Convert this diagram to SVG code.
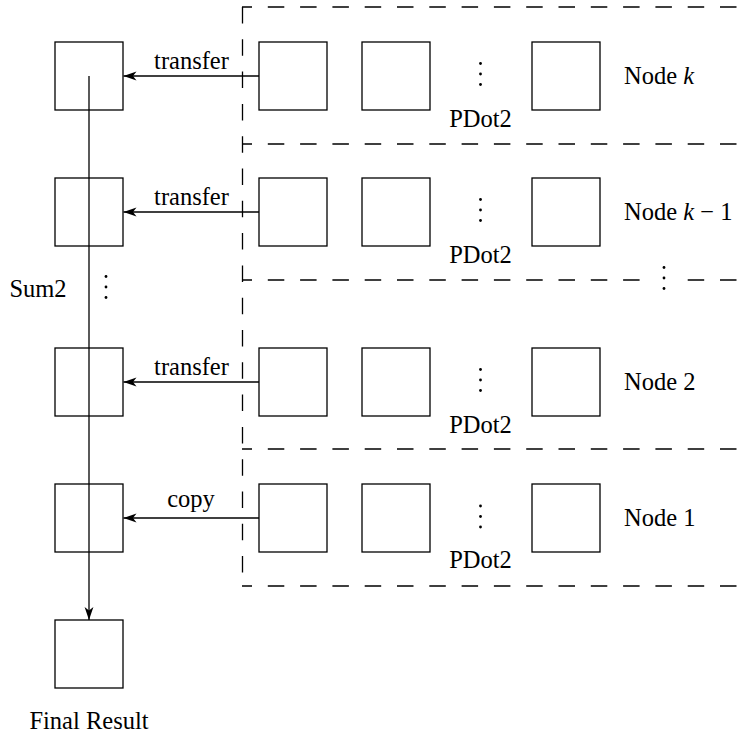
<svg xmlns="http://www.w3.org/2000/svg" width="738" height="734" viewBox="0 0 738 734">
<style>
  .box { fill: none; stroke: #000; stroke-width: 1.3; }
  .ln { fill: none; stroke: #000; stroke-width: 1.3; }
  .dash { fill: none; stroke: #000; stroke-width: 1.3; stroke-dasharray: 16.5 15.8; }
  .t { font-family: 'Liberation Serif', serif; font-size: 24.5px; fill: #000; }
  .m { text-anchor: middle; }
  .dot { fill: #000; }
</style>
<defs>
  <marker id="ah" viewBox="0 0 14 10" refX="13" refY="5" markerWidth="14" markerHeight="10" markerUnits="userSpaceOnUse" orient="auto">
    <path d="M13,5 L0,0.6 L3.5,5 L0,9.4 Z" fill="#000"/>
  </marker>
  <g id="vdots">
    <circle cx="0" cy="-10.5" r="1.4" class="dot"/>
    <circle cx="0" cy="0" r="1.4" class="dot"/>
    <circle cx="0" cy="10.5" r="1.4" class="dot"/>
  </g>
</defs>

<!-- dashed node regions -->
<g id="regions">
  <line class="dash" x1="242.5" y1="7" x2="242.5" y2="586"/>
  <line class="dash" x1="242" y1="7" x2="738" y2="7" stroke-dashoffset="6.5"/>
  <line class="dash" x1="242" y1="144" x2="738" y2="144" stroke-dashoffset="6.5"/>
  <line class="dash" x1="242" y1="280" x2="738" y2="280" stroke-dashoffset="6.5"/>
  <line class="dash" x1="242" y1="449" x2="738" y2="449" stroke-dashoffset="6.5"/>
  <line class="dash" x1="242" y1="586" x2="738" y2="586" stroke-dashoffset="6.5"/>
  <rect x="652" y="270" width="24" height="20" fill="#fff"/>
  <use href="#vdots" x="664" y="278"/>
</g>

<!-- connectors -->
<g id="connectors">
  <line class="ln" x1="89" y1="76" x2="89" y2="620" marker-end="url(#ah)"/>
  <line class="ln" x1="259" y1="76" x2="123.5" y2="76" marker-end="url(#ah)"/>
  <line class="ln" x1="259" y1="212" x2="123.5" y2="212" marker-end="url(#ah)"/>
  <line class="ln" x1="259" y1="382" x2="123.5" y2="382" marker-end="url(#ah)"/>
  <line class="ln" x1="259" y1="518" x2="123.5" y2="518" marker-end="url(#ah)"/>
  <text class="t m" x="191.5" y="69">transfer</text>
  <text class="t m" x="191.5" y="205">transfer</text>
  <text class="t m" x="191.5" y="375">transfer</text>
  <text class="t m" x="191" y="507">copy</text>
</g>

<!-- Sum2 column -->
<g id="sum2-1"><rect class="box" x="55" y="42" width="68" height="68"/></g>
<g id="sum2-2"><rect class="box" x="55" y="178" width="68" height="68"/></g>
<g id="sum2-3"><rect class="box" x="55" y="348" width="68" height="68"/></g>
<g id="sum2-4"><rect class="box" x="55" y="484" width="68" height="68"/></g>
<g id="sum2-label">
  <text class="t m" x="38" y="297">Sum2</text>
  <use href="#vdots" x="106" y="287"/>
</g>
<g id="final">
  <rect class="box" x="55" y="620" width="68" height="68"/>
  <text class="t m" x="89" y="729">Final Result</text>
</g>

<!-- Node k -->
<g id="node-k">
  <rect class="box" x="259" y="42" width="68" height="68"/>
  <rect class="box" x="362" y="42" width="68" height="68"/>
  <use href="#vdots" x="480.5" y="74"/>
  <rect class="box" x="532" y="42" width="68" height="68"/>
  <text class="t m" x="480.5" y="127">PDot2</text>
  <text class="t" x="624" y="84">Node <tspan font-style="italic">k</tspan></text>
</g>

<!-- Node k-1 -->
<g id="node-k-1">
  <rect class="box" x="259" y="178" width="68" height="68"/>
  <rect class="box" x="362" y="178" width="68" height="68"/>
  <use href="#vdots" x="480.5" y="210"/>
  <rect class="box" x="532" y="178" width="68" height="68"/>
  <text class="t m" x="480.5" y="263">PDot2</text>
  <text class="t" x="624" y="220">Node <tspan font-style="italic">k</tspan> − 1</text>
</g>

<!-- Node 2 -->
<g id="node-2">
  <rect class="box" x="259" y="348" width="68" height="68"/>
  <rect class="box" x="362" y="348" width="68" height="68"/>
  <use href="#vdots" x="480.5" y="380"/>
  <rect class="box" x="532" y="348" width="68" height="68"/>
  <text class="t m" x="480.5" y="433">PDot2</text>
  <text class="t" x="624" y="390">Node 2</text>
</g>

<!-- Node 1 -->
<g id="node-1">
  <rect class="box" x="259" y="484" width="68" height="68"/>
  <rect class="box" x="362" y="484" width="68" height="68"/>
  <use href="#vdots" x="480.5" y="516.5"/>
  <rect class="box" x="532" y="484" width="68" height="68"/>
  <text class="t m" x="480.5" y="568">PDot2</text>
  <text class="t" x="624" y="526">Node 1</text>
</g>
</svg>
